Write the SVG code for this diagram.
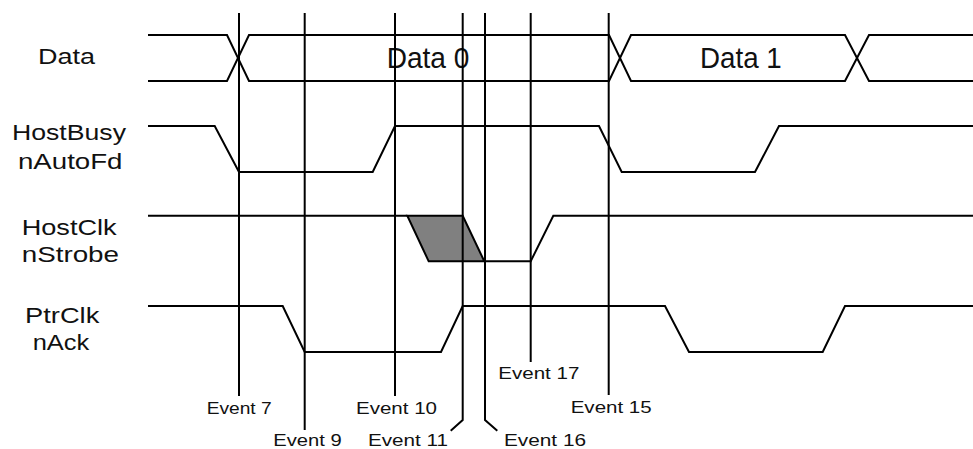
<svg xmlns="http://www.w3.org/2000/svg" width="973" height="449" viewBox="0 0 973 449">
<style>
.w{fill:none;stroke:#000;stroke-width:2;stroke-linejoin:miter}
.ev{fill:none;stroke:#000;stroke-width:2}
.sig{font-family:"Liberation Sans",Arial,Helvetica,sans-serif;font-size:22px;fill:#111}
.evt{font-family:"Liberation Sans",Arial,Helvetica,sans-serif;font-size:16px;fill:#111}
.big{font-family:"Liberation Sans",Arial,Helvetica,sans-serif;font-size:30px;fill:#111}
</style>
<rect width="973" height="449" fill="#fff"/>
<g id="labels">
<text class="sig" x="38" y="64" textLength="57" lengthAdjust="spacingAndGlyphs">Data</text>
<text class="sig" x="12" y="139.5" textLength="114" lengthAdjust="spacingAndGlyphs">HostBusy</text>
<text class="sig" x="18" y="168.5" textLength="104.5" lengthAdjust="spacingAndGlyphs">nAutoFd</text>
<text class="sig" x="21.7" y="235" textLength="95" lengthAdjust="spacingAndGlyphs">HostClk</text>
<text class="sig" x="21.7" y="262" textLength="97.3" lengthAdjust="spacingAndGlyphs">nStrobe</text>
<text class="sig" x="25" y="323" textLength="74.3" lengthAdjust="spacingAndGlyphs">PtrClk</text>
<text class="sig" x="32.7" y="350" textLength="56.6" lengthAdjust="spacingAndGlyphs">nAck</text>
</g>
<g id="data">
<path class="w" d="M148,35 H227 L249,81 H609 L631,35 H845 L869,81 H973"/>
<path class="w" d="M148,81 H227 L249,35 H609 L631,81 H845 L869,35 H973"/>
<text class="big" x="386.7" y="68.3" textLength="82.7" lengthAdjust="spacingAndGlyphs">Data 0</text>
<text class="big" x="700" y="68.3" textLength="81.7" lengthAdjust="spacingAndGlyphs">Data 1</text>
</g>
<g id="hostbusy">
<path class="w" d="M148,126 H214.7 L239,172 H372.7 L395,126 H599 L621.7,172 H755 L779,126 H973"/>
</g>
<g id="hostclk">
<polygon points="407.3,215.7 462.7,215.7 484.3,261.3 428.7,261.3" fill="#808080" stroke="#000" stroke-width="2"/>
<path class="w" d="M148,215.7 H407.3"/>
<path class="w" d="M484.3,261.3 H530.7 L553.3,215.7 H973"/>
</g>
<g id="ptrclk">
<path class="w" d="M148,306 H282.7 L304.7,352 H441 L462.7,306 H665 L689,352 H822.7 L845,306 H973"/>
</g>
<g id="connectors">
<path class="ev" d="M239,13 V396"/>
<path class="ev" d="M304.7,13 V430"/>
<path class="ev" d="M395,13 V396"/>
<path class="ev" d="M462.7,13 V420 L450.7,430.7"/>
<path class="ev" d="M485,13 V420 L497.3,430.7"/>
<path class="ev" d="M530.7,13 V362"/>
<path class="ev" d="M608.7,13 V395"/>
</g>
<g id="event-labels">
<text class="evt" x="206.7" y="414" textLength="65" lengthAdjust="spacingAndGlyphs">Event 7</text>
<text class="evt" x="273.3" y="445.7" textLength="68.4" lengthAdjust="spacingAndGlyphs">Event 9</text>
<text class="evt" x="356" y="414" textLength="81" lengthAdjust="spacingAndGlyphs">Event 10</text>
<text class="evt" x="368" y="445.7" textLength="80" lengthAdjust="spacingAndGlyphs">Event 11</text>
<text class="evt" x="504" y="445.7" textLength="82" lengthAdjust="spacingAndGlyphs">Event 16</text>
<text class="evt" x="498.3" y="379.3" textLength="81" lengthAdjust="spacingAndGlyphs">Event 17</text>
<text class="evt" x="570.7" y="412.7" textLength="81" lengthAdjust="spacingAndGlyphs">Event 15</text>
</g>
</svg>
